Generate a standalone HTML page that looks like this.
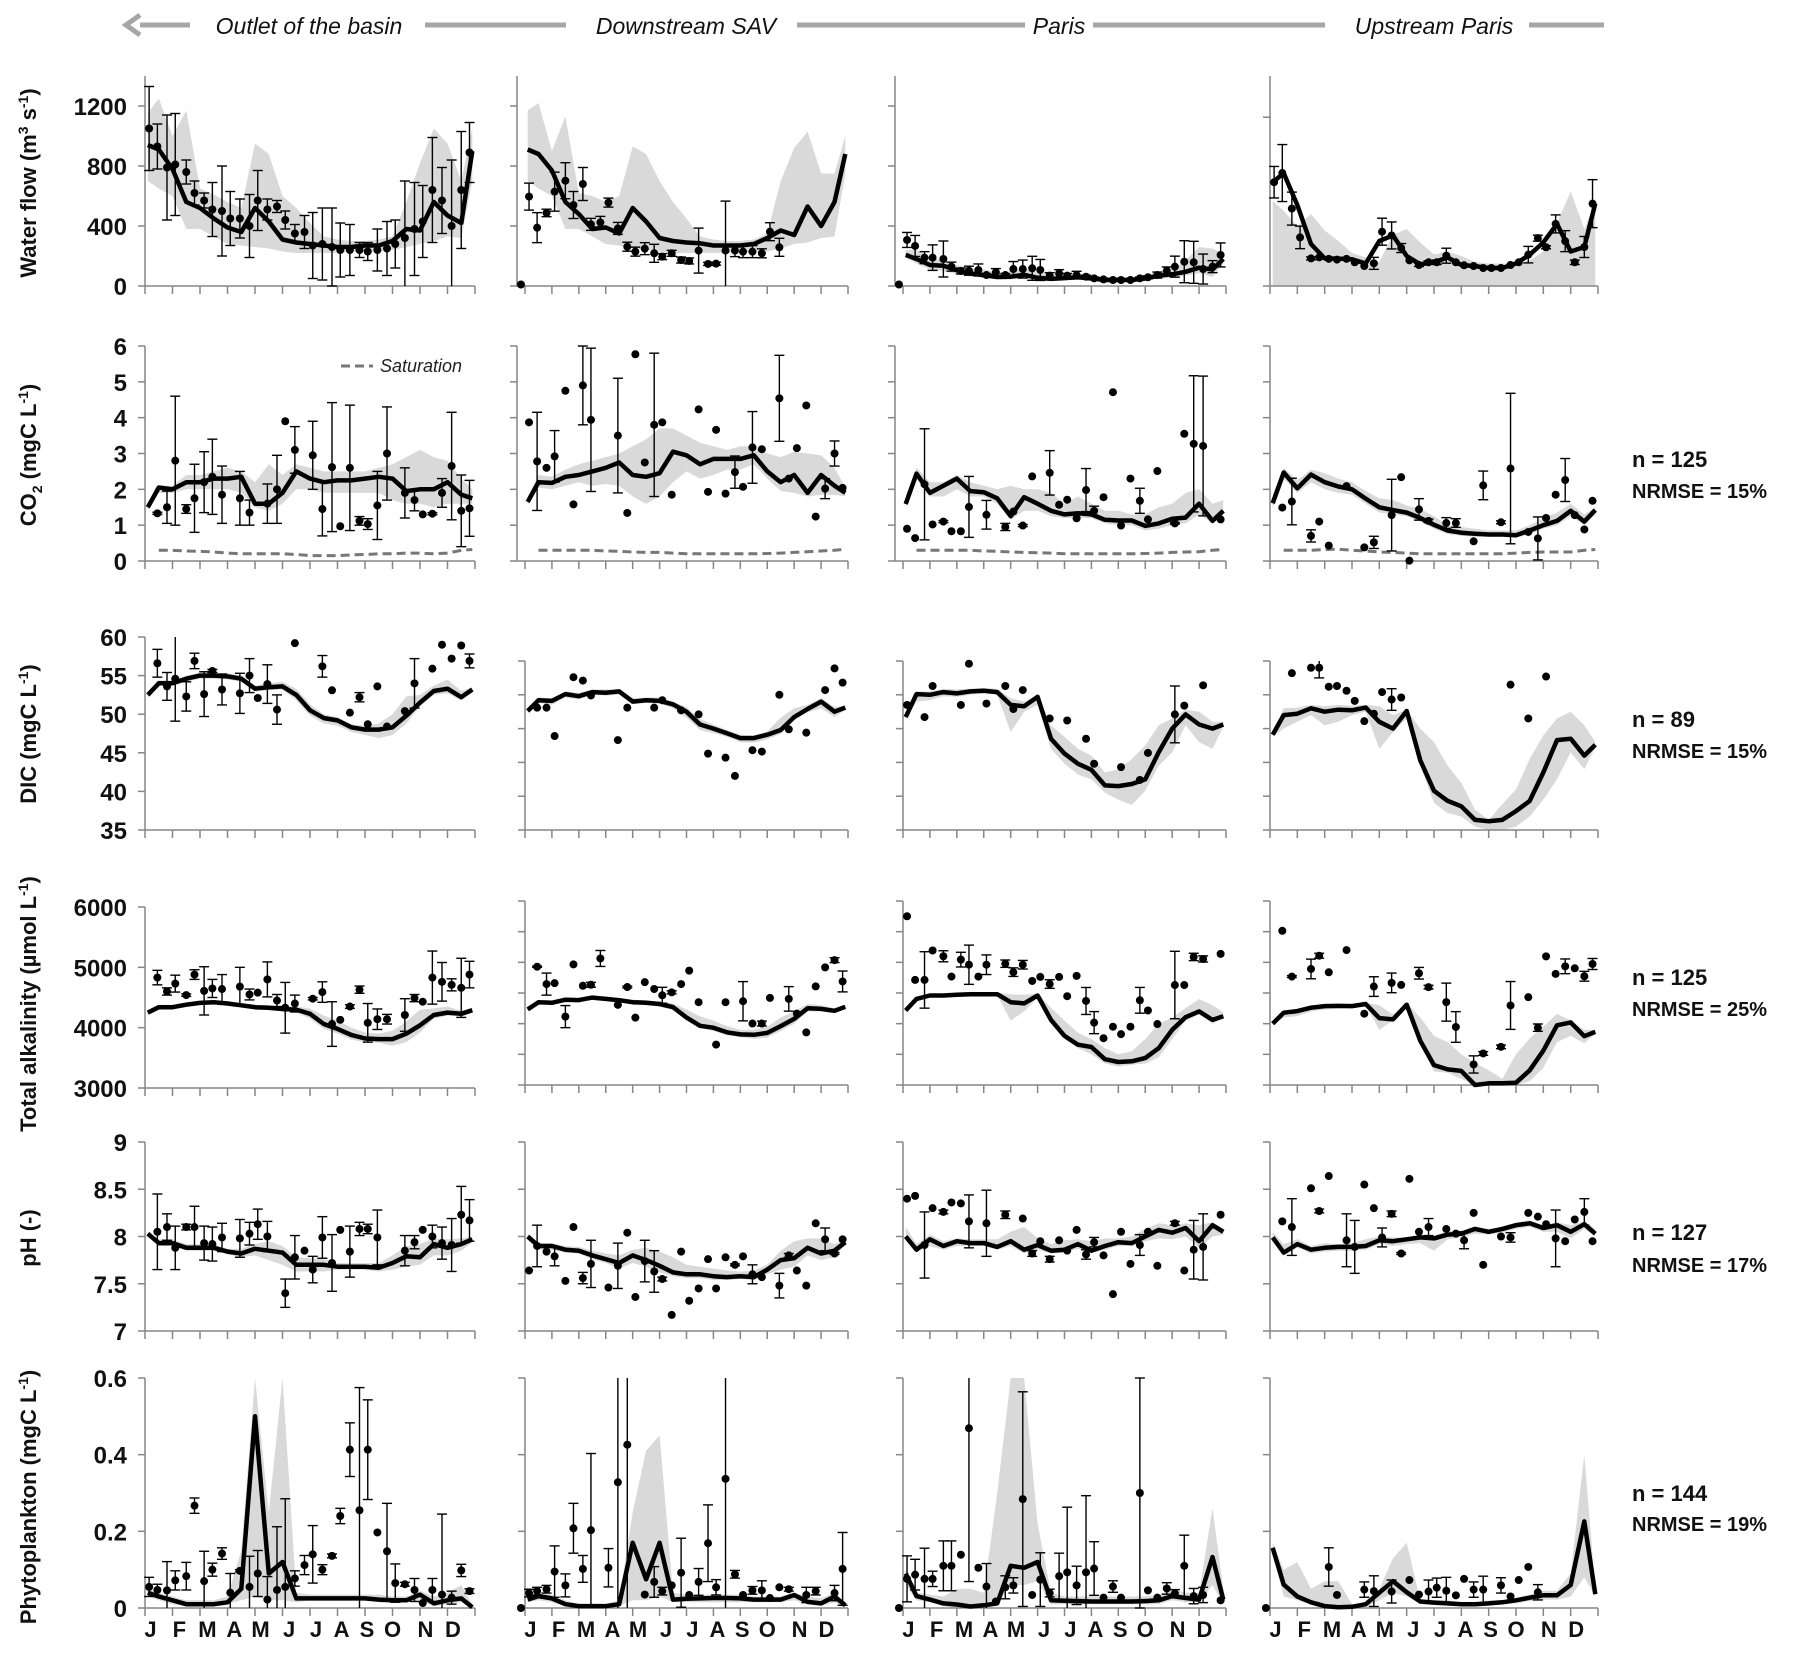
<!DOCTYPE html>
<html><head><meta charset="utf-8"><title>Carbonate system simulations along the Seine</title>
<style>
html,body{margin:0;padding:0;background:#fff;}
svg{display:block;font-family:"Liberation Sans",Arial,sans-serif;}
</style></head>
<body>
<svg id="fig" width="1800" height="1663" viewBox="0 0 1800 1663" xmlns="http://www.w3.org/2000/svg">
  <g>
    <line x1="140" y1="25" x2="190" y2="25" stroke="#a6a6a6" stroke-width="5"/>
    <polyline points="140,15 126,25 140,35" fill="none" stroke="#a6a6a6" stroke-width="5"/>
    <text x="309" y="34" font-size="23" font-style="italic" text-anchor="middle" fill="#111">Outlet of the basin</text>
    <line x1="425" y1="25" x2="566" y2="25" stroke="#a6a6a6" stroke-width="5"/>
    <text x="686" y="34" font-size="23" font-style="italic" text-anchor="middle" fill="#111">Downstream SAV</text>
    <line x1="797" y1="25" x2="1025" y2="25" stroke="#a6a6a6" stroke-width="5"/>
    <text x="1059" y="34" font-size="23" font-style="italic" text-anchor="middle" fill="#111">Paris</text>
    <line x1="1093" y1="25" x2="1325" y2="25" stroke="#a6a6a6" stroke-width="5"/>
    <text x="1434" y="34" font-size="23" font-style="italic" text-anchor="middle" fill="#111">Upstream Paris</text>
    <line x1="1529" y1="25" x2="1604" y2="25" stroke="#a6a6a6" stroke-width="5"/>
  </g>
  <g font-weight="bold" font-size="22" fill="#111">
    <text transform="translate(36,183) rotate(-90)" text-anchor="middle">Water flow (m<tspan font-size="14" dy="-8">3</tspan><tspan dy="8"> s</tspan><tspan font-size="14" dy="-8">-1</tspan><tspan dy="8">)</tspan></text>
    <text transform="translate(36,455) rotate(-90)" text-anchor="middle">CO<tspan font-size="14" dy="6">2</tspan><tspan dy="-6"> (mgC L</tspan><tspan font-size="14" dy="-8">-1</tspan><tspan dy="8">)</tspan></text>
    <text transform="translate(36,734) rotate(-90)" text-anchor="middle">DIC (mgC L<tspan font-size="14" dy="-8">-1</tspan><tspan dy="8">)</tspan></text>
    <text transform="translate(36,1004) rotate(-90)" text-anchor="middle">Total alkalinity (µmol L<tspan font-size="14" dy="-8">-1</tspan><tspan dy="8">)</tspan></text>
    <text transform="translate(36,1238) rotate(-90)" text-anchor="middle">pH (-)</text>
    <text transform="translate(36,1497) rotate(-90)" text-anchor="middle">Phytoplankton (mgC L<tspan font-size="14" dy="-8">-1</tspan><tspan dy="8">)</tspan></text>
  </g>
  <g font-weight="bold" fill="#111">
    <text x="1632" y="467" font-size="22">n = 125</text>
    <text x="1632" y="498" font-size="20">NRMSE = 15%</text>
    <text x="1632" y="727" font-size="22">n = 89</text>
    <text x="1632" y="758" font-size="20">NRMSE = 15%</text>
    <text x="1632" y="985" font-size="22">n = 125</text>
    <text x="1632" y="1016" font-size="20">NRMSE = 25%</text>
    <text x="1632" y="1240" font-size="22">n = 127</text>
    <text x="1632" y="1272" font-size="20">NRMSE = 17%</text>
    <text x="1632" y="1501" font-size="22">n = 144</text>
    <text x="1632" y="1531" font-size="20">NRMSE = 19%</text>
  </g>
  <g>
    <line x1="341" y1="366" x2="373" y2="366" stroke="#777" stroke-width="3" stroke-dasharray="9,5"/>
    <text x="380" y="372" font-size="18" font-style="italic" fill="#222">Saturation</text>
  </g>
  <g id="panels"></g>
</svg>
<script>
// ---------- model time grid (months) and observation time slots ----------
const modelT = [0.1,0.5,1,1.5,2,2.5,3,3.5,4,4.5,5,5.5,6,6.5,7,7.5,8,8.5,9,9.5,10,10.5,11,11.5,11.9];
const obsT = [-0.15,0.15,0.45,0.8,1.1,1.5,1.8,2.15,2.45,2.8,3.1,3.45,3.8,4.1,4.45,4.8,5.1,5.45,5.8,6.1,6.45,6.8,7.1,7.45,7.8,8.1,8.45,8.8,9.1,9.45,9.8,10.1,10.45,10.8,11.15,11.5,11.8];
const monthLabels = ["J","F","M","A","M","J","J","A","S","O","N","D"];

// ---------- Water flow ----------
const flow_c1_model = [940,910,780,560,520,450,390,360,520,430,310,290,280,270,260,260,270,270,300,380,370,560,470,420,900];
const flow_c1_hi = [1150,1250,1000,1170,650,610,560,520,950,880,600,520,420,330,310,300,300,310,330,560,820,1050,950,700,1050];
const flow_c1_lo = [700,650,600,380,380,330,280,270,260,250,230,220,220,220,220,230,230,230,240,260,280,300,330,320,700];
const flow_c1_obs = [null,1050,930,790,810,760,620,570,510,500,450,450,400,570,510,530,440,350,360,270,280,260,240,240,240,230,240,250,280,320,380,430,640,570,400,640,890];
const flow_c1_err = [0,280,150,350,340,80,80,50,180,300,180,130,210,200,70,40,60,60,110,220,240,260,180,170,50,60,140,180,160,380,310,240,350,220,440,390,200];

const flow_c2_model = [910,880,770,560,480,380,390,350,520,430,320,300,290,285,270,270,270,280,320,370,340,530,400,560,880];
const flow_c2_hi = [1170,1220,900,1130,620,600,560,600,930,880,700,560,450,330,310,300,300,310,350,700,920,1030,750,750,1000];
const flow_c2_lo = [700,650,600,380,380,330,280,270,250,240,230,220,220,220,220,220,220,225,230,250,280,290,320,330,750];
const flow_c2_obs = [10,596,389,487,629,702,540,680,411,424,556,384,262,229,249,218,196,218,173,167,236,147,149,236,236,229,229,218,362,258,null,null,null,null,null,null,null];
const flow_c2_err = [0,90,100,25,130,120,90,110,40,40,30,40,30,30,40,60,20,20,20,20,150,10,10,330,40,40,40,30,60,60,0,0,0,0,0,0,0];

const flow_c3_model = [207,180,140,135,105,84,73,60,62,75,55,47,53,58,50,40,40,40,50,69,78,95,122,110,180];
const flow_c3_hi = [240,240,190,170,140,120,110,90,100,115,90,80,80,85,75,60,60,60,75,95,110,170,260,250,220];
const flow_c3_lo = [190,150,110,100,80,62,55,45,45,50,40,35,40,40,35,30,30,30,35,50,55,70,85,60,150];
const flow_c3_obs = [10,307,267,189,189,180,129,100,102,107,73,91,73,113,113,118,107,69,84,69,73,62,51,44,40,40,40,51,58,73,102,129,162,158,113,129,207];
const flow_c3_err = [0,50,70,40,85,120,30,20,30,40,10,25,10,50,60,80,70,20,25,15,25,10,8,8,8,8,8,8,10,20,25,70,140,140,100,40,80];

const flow_c4_model = [692,753,540,280,184,183,178,150,300,337,200,145,158,190,140,133,120,120,150,209,290,414,230,260,549];
const flow_c4_hi = [567,500,400,480,370,300,220,190,160,340,380,290,210,230,200,160,150,150,150,170,230,420,630,380,560];
const flow_c4_lo = [0,0,0,0,0,0,0,0,0,0,0,0,0,0,0,0,0,0,0,0,0,0,0,0,0];
const flow_c4_obs = [null,692,753,516,324,184,191,181,176,181,158,133,151,362,337,253,171,140,158,158,202,158,138,133,120,120,120,140,158,209,319,258,414,299,158,260,549];
const flow_c4_err = [0,105,190,110,75,10,0,0,0,0,0,0,40,90,90,30,0,10,10,15,50,0,0,0,0,0,0,0,0,55,20,10,60,70,15,70,160];

// ---------- CO2 ----------
const co2_c1_model = [1.5,2.05,2.0,2.2,2.2,2.3,2.3,2.35,1.6,1.6,1.9,2.5,2.3,2.2,2.25,2.25,2.3,2.35,2.3,1.95,2.0,2.0,2.2,1.85,1.75];
const co2_c1_hi = [1.6,2.1,2.1,2.4,2.4,2.5,2.6,2.5,2.2,2.7,2.4,2.7,2.6,2.5,2.5,2.5,2.5,2.6,2.7,2.9,3.1,2.9,2.8,2.3,2.0];
const co2_c1_lo = [1.4,1.9,1.9,2.0,2.0,2.0,2.0,1.9,1.5,1.4,1.6,2.0,2.0,1.9,1.9,1.9,1.9,1.9,1.7,1.6,1.6,1.5,1.6,1.6,1.6];
const co2_c1_obs = [null,null,1.33,1.5,2.8,1.45,1.75,2.2,2.35,1.85,null,1.75,1.35,null,1.6,2.0,3.9,3.1,null,2.95,1.45,2.62,0.97,2.6,1.12,1.03,1.55,3.0,null,1.9,1.7,1.3,1.32,1.9,2.65,1.4,1.47];
const co2_c1_err = [0,0,0.03,0.45,1.8,0.12,0.95,0.85,1.05,0.8,0,0.75,0.35,0,0.55,0.95,0,0.65,0,0.95,0.75,1.8,0,1.75,0.12,0.15,0.95,1.3,0,0.7,0.3,0,0.03,0.4,1.5,1.0,0.78];
const sat_c1 = [0.3,0.3,0.3,0.28,0.27,0.25,0.22,0.2,0.2,0.2,0.2,0.18,0.15,0.15,0.15,0.17,0.18,0.2,0.2,0.22,0.22,0.2,0.22,0.3,0.32];

const co2_c2_model = [1.65,2.2,2.18,2.35,2.4,2.5,2.6,2.75,2.4,2.35,2.45,3.05,2.95,2.7,2.85,2.85,2.85,2.95,2.5,2.2,2.4,1.9,2.4,2.1,1.9];
const co2_c2_hi = [1.8,2.4,2.35,2.55,2.7,2.8,2.9,3.0,3.2,3.4,3.7,3.7,3.5,3.3,3.2,3.1,3.2,3.2,3.0,2.9,3.05,3.0,2.95,2.6,2.05];
const co2_c2_lo = [1.55,2.05,2.0,2.1,2.2,2.1,2.15,2.1,1.8,1.6,1.8,2.2,2.5,2.3,2.4,2.55,2.55,2.7,2.3,1.95,1.9,1.8,1.85,1.85,1.8];
const co2_c2_obs = [null,3.87,2.78,2.6,2.92,4.75,1.58,4.9,3.94,null,null,3.5,1.34,5.77,2.75,3.8,3.87,1.85,null,null,4.23,1.93,3.66,1.88,2.48,2.07,3.17,3.12,null,4.54,2.3,3.15,4.34,1.24,2.02,3.0,2.04];
const co2_c2_err = [0,0,1.37,0,0.72,0,0,1.1,2.0,0,0,1.6,0,0,0,2.0,0,0,0,0,0,0,0,0,0.45,0,1.0,0,0,1.2,0,0,0,0,0.28,0.35,0];
const sat_c2 = [0.3,0.3,0.3,0.3,0.3,0.3,0.28,0.27,0.25,0.24,0.24,0.22,0.2,0.2,0.2,0.2,0.2,0.2,0.21,0.22,0.24,0.26,0.28,0.3,0.33];

const co2_c3_model = [1.59,2.44,1.9,2.1,2.3,1.95,1.92,1.75,1.25,1.78,1.6,1.4,1.3,1.33,1.3,1.15,1.13,1.13,0.98,1.05,1.18,1.21,1.6,1.12,1.4];
const co2_c3_hi = [1.8,2.6,2.2,2.2,2.4,2.2,2.1,2.0,2.1,2.0,2.0,1.9,1.6,1.8,1.6,1.4,1.4,1.3,1.3,1.5,1.6,1.9,2.0,1.6,1.7];
const co2_c3_lo = [1.5,2.3,1.8,1.8,2.0,1.8,1.8,1.6,1.15,1.4,1.4,1.25,1.2,1.2,1.2,1.05,1.0,1.0,0.85,0.9,1.0,1.05,1.3,1.05,1.3];
const co2_c3_obs = [null,0.9,0.64,2.14,1.02,1.1,0.83,0.83,1.51,null,1.29,null,0.95,1.38,0.99,2.36,null,2.46,1.57,1.71,1.19,1.98,1.4,1.78,4.71,0.99,2.3,1.68,1.16,2.51,null,1.05,3.55,3.27,3.21,null,1.16];
const co2_c3_err = [0,0,0,1.55,0,0.03,0,0,0.85,0,0.4,0,0.1,0,0.03,0,0,0.62,0,0,0,0.6,0.13,0,0,0,0,0.35,0,0,0,0.02,0,1.9,1.95,0,0];
const sat_c3 = [0.3,0.3,0.3,0.3,0.3,0.3,0.28,0.27,0.25,0.24,0.23,0.22,0.2,0.2,0.2,0.2,0.2,0.2,0.21,0.22,0.24,0.25,0.26,0.3,0.32];

const co2_c4_model = [1.61,2.47,2.03,2.41,2.2,2.08,2.0,1.74,1.5,1.42,1.35,1.2,1.01,0.85,0.79,0.76,0.74,0.74,0.72,0.85,1.0,1.12,1.4,1.1,1.42];
const co2_c4_hi = [1.85,2.6,2.25,2.55,2.45,2.3,2.2,1.95,1.75,1.7,1.55,1.45,1.25,1.0,0.95,0.9,0.85,0.85,0.85,1.0,1.2,1.35,1.6,1.3,1.5];
const co2_c4_lo = [1.45,2.3,1.9,2.2,2.0,1.9,1.85,1.6,1.35,1.3,1.25,1.1,0.9,0.75,0.7,0.68,0.68,0.68,0.65,0.75,0.9,1.0,1.25,1.0,1.3];
const co2_c4_obs = [null,null,1.49,1.66,null,0.7,1.1,0.43,null,2.09,null,0.38,0.52,null,1.28,2.34,0.01,1.44,1.12,null,1.06,1.06,null,0.55,2.11,null,1.08,2.58,null,0.81,0.63,1.2,1.85,2.26,1.28,0.88,1.68];
const co2_c4_err = [0,0,0,0.65,0,0.17,0,0,0,0,0,0,0.17,0,1.0,0,0,0.3,0.05,0,0.15,0.12,0,0,0.4,0,0.04,2.1,0,0,0.6,0,0,0.6,0,0,0];
const sat_c4 = [0.3,0.3,0.3,0.3,0.32,0.33,0.3,0.28,0.25,0.24,0.22,0.2,0.2,0.2,0.2,0.2,0.2,0.2,0.22,0.24,0.25,0.25,0.25,0.3,0.32];

// ---------- DIC ----------
const dic_c1_model = [52.5,54.0,54.0,54.6,55.0,55.0,54.9,54.6,53.3,53.5,53.6,52.5,50.5,49.5,49.2,48.3,48.0,48.0,48.3,49.8,51.5,53.0,53.3,52.2,53.2];
const dic_c1_hi = [52.8,54.4,54.4,55.0,55.4,55.4,55.3,55.0,53.7,54.0,54.2,53.3,51.3,50.0,49.6,48.7,48.5,48.8,50.0,52.3,52.5,53.7,54.5,53.0,53.5];
const dic_c1_lo = [52.2,53.7,53.7,54.2,54.6,54.6,54.5,54.2,52.9,53.1,53.2,51.8,49.8,48.8,48.5,47.7,47.3,46.9,47.3,48.8,51.0,52.5,52.7,51.8,52.9];
const dic_c1_obs = [null,null,56.6,53.6,54.6,52.3,56.9,52.6,55.6,53.2,null,52.7,55.0,52.1,53.9,50.6,null,59.2,null,null,56.2,53.1,null,50.2,52.2,48.7,53.6,48.4,null,50.4,54.0,null,55.9,59.0,57.2,58.9,56.9];
const dic_c1_err = [0,0,1.8,1.8,5.5,1.9,1.0,2.9,0.2,2.0,0,2.6,2.2,0,2.5,1.9,0,0,0,0,1.4,0,0,0,0.6,0,0,0,0,0,3.2,0,0,0,0,0,0.9];

const dic_c2_model = [52.6,54.2,54.1,55.1,54.8,55.4,55.3,55.5,54.0,54.2,54.1,53.6,52.5,50.6,50.0,49.3,48.6,48.6,49.1,49.8,51.7,52.9,54.0,52.5,53.1];
const dic_c2_hi = [52.9,54.6,54.5,55.5,55.3,55.8,55.8,55.8,54.5,54.6,54.6,54.0,53.2,51.4,50.6,49.8,49.1,49.0,49.6,51.6,53.0,53.5,54.5,53.2,53.4];
const dic_c2_lo = [52.3,53.8,53.5,54.6,54.3,55.0,54.9,55.0,53.6,53.8,53.7,53.0,51.6,49.8,49.3,48.8,48.0,47.9,48.4,49.2,51.3,52.4,53.0,51.7,52.8];
const dic_c2_obs = [null,null,53.1,53.1,48.9,null,57.6,57.1,54.9,null,null,48.3,53.1,null,null,53.1,54.2,null,52.7,null,52.1,46.3,null,45.7,43.0,null,46.8,46.6,null,55.0,49.9,null,49.4,null,55.7,58.9,56.8];
const dic_c2_err = [0,0,0,0,0,0,0,0,0,0,0,0,0,0,0,0,0,0,0,0,0,0,0,0,0,0,0,0,0,0,0,0,0,0,0,0,0];

const dic_c3_model = [51.7,55.1,55.0,55.4,55.2,55.5,55.6,55.4,53.5,53.3,54.7,48.5,46.3,44.8,43.9,41.6,41.5,41.8,42.5,46.5,50.0,52.1,50.6,50.0,50.6];
const dic_c3_hi = [52.0,55.5,55.5,55.9,55.8,55.9,56.0,55.9,54.5,54.0,55.0,50.5,48.8,47.0,46.0,43.5,44.0,45.5,47.5,50.5,51.5,52.8,52.5,51.0,51.0];
const dic_c3_lo = [51.4,54.0,54.2,54.8,54.7,55.0,55.2,55.0,49.5,52.5,53.5,47.0,44.8,43.2,42.5,40.5,39.5,38.7,40.8,44.5,46.5,50.5,48.0,47.0,50.3];
const dic_c3_obs = [null,53.5,null,51.7,56.3,null,null,53.5,59.6,null,53.7,null,56.3,52.9,55.7,null,null,51.5,null,51.2,null,48.5,44.8,null,null,44.3,null,42.4,46.4,null,null,52.1,53.4,null,56.4,null,null];
const dic_c3_err = [0,0,0,0,0,0,0,0,0,0,0,0,0,0,0,0,0,0,0,0,0,0,0,0,0,0,0,0,0,0,0,4.2,0,0,0,0,0];

const dic_c4_model = [49.1,52.0,52.2,53.0,52.5,52.8,52.7,53.1,51.0,50.0,52.6,45.3,40.8,39.3,38.5,36.5,36.3,36.5,37.8,39.3,43.5,48.3,48.5,46.0,47.6];
const dic_c4_hi = [49.4,53.0,53.1,53.5,53.3,53.5,53.4,53.5,53.3,52.0,52.8,50.0,48.0,44.5,42.0,38.0,36.5,38.8,41.0,45.5,49.0,51.5,52.5,50.5,48.0];
const dic_c4_lo = [48.8,50.0,51.0,52.0,50.5,51.0,52.0,52.5,47.0,49.5,51.5,44.5,39.0,37.5,37.0,35.5,35.0,35.0,35.5,37.0,39.5,42.5,46.5,44.0,47.2];
const dic_c4_obs = [null,null,null,58.2,null,59.0,59.0,56.2,56.3,55.6,54.1,51.1,52.2,55.4,54.3,54.6,null,null,null,null,null,null,null,null,null,null,null,56.5,null,51.5,null,57.7,null,null,null,null,null];
const dic_c4_err = [0,0,0,0,0,0,1.5,0,0,0,0,0,0,0,1.6,0,0,0,0,0,0,0,0,0,0,0,0,0,0,0,0,0,0,0,0,0,0];

// ---------- Total alkalinity ----------
const alk_c1_model = [4250,4340,4340,4380,4410,4420,4400,4370,4340,4330,4310,4300,4230,4060,3980,3880,3820,3810,3810,3900,4040,4210,4250,4230,4290];
const alk_c1_hi = [4280,4380,4380,4420,4450,4450,4430,4400,4380,4370,4350,4350,4320,4200,4120,4000,3920,3900,3950,4100,4300,4320,4350,4280,4320];
const alk_c1_lo = [4220,4310,4310,4350,4380,4390,4370,4340,4300,4290,4270,4250,4150,3980,3900,3800,3760,3750,3700,3760,3920,4150,4200,4190,4260];
const alk_c1_obs = [null,null,4830,4600,4730,4540,4880,4610,4650,4640,null,4680,4550,4580,4800,4450,4330,4400,null,4480,4590,4060,4130,4350,4630,4080,4140,4140,null,4210,4490,4430,4830,4760,4710,4660,4880];
const alk_c1_err = [0,0,120,60,140,20,80,400,150,240,0,320,90,0,290,100,420,140,0,20,170,370,0,30,60,320,170,80,0,270,60,0,440,320,100,490,220];

const alk_c2_model = [4232,4350,4340,4390,4385,4425,4404,4383,4350,4340,4320,4270,4100,3965,3935,3860,3825,3818,3850,3960,4080,4250,4240,4210,4275];
const alk_c2_hi = [4260,4380,4380,4420,4420,4450,4440,4420,4390,4380,4360,4330,4230,4120,4050,3960,3900,3900,3950,4100,4200,4320,4300,4250,4300];
const alk_c2_lo = [4200,4320,4310,4360,4350,4390,4370,4350,4310,4300,4280,4220,4050,3930,3880,3810,3780,3750,3770,3880,4000,4200,4200,4170,4250];
const alk_c2_obs = [null,null,4929,4645,4660,4115,4966,4618,4634,5063,null,4307,4597,4098,4677,4565,4463,4511,4645,4865,4350,null,3659,4350,null,4366,4002,4002,4420,null,4404,4163,3857,4607,4918,5036,4688];
const alk_c2_err = [0,0,10,180,0,180,0,0,40,130,0,0,15,0,0,0,130,25,0,0,0,0,0,0,0,320,0,40,0,0,200,0,0,0,0,40,170];

const alk_c3_model = [4215,4403,4459,4459,4470,4481,4481,4481,4350,4330,4459,4061,3800,3657,3620,3420,3375,3387,3440,3600,3900,4105,4200,4061,4122];
const alk_c3_hi = [4240,4440,4490,4490,4500,4510,4510,4510,4480,4470,4490,4260,4050,3850,3750,3600,3500,3550,3750,4000,4100,4250,4400,4300,4180];
const alk_c3_lo = [4190,4370,4430,4430,4440,4460,4460,4460,4050,4200,4420,4000,3750,3600,3500,3350,3300,3330,3350,3450,3750,4050,4150,4000,4090];
const alk_c3_obs = [null,5751,4713,4713,5193,5099,4768,5044,4961,4768,4961,null,4978,4840,4961,4696,4762,4646,4762,4448,4779,4370,4017,3763,3950,3829,3950,4381,4215,3994,null,4630,4630,5088,5055,null,5138];
const alk_c3_err = [0,0,0,460,0,90,0,120,320,0,160,0,60,70,70,0,0,70,0,0,0,220,180,0,0,0,0,210,0,0,0,550,0,60,50,0,0];

const alk_c4_model = [4000,4178,4205,4260,4286,4290,4286,4320,4090,4070,4310,3720,3324,3254,3230,3000,3027,3027,3038,3240,3560,3973,4020,3795,3865];
const alk_c4_hi = [4020,4200,4230,4290,4310,4320,4310,4340,4300,4150,4330,4100,3800,3700,3500,3360,3240,3100,3500,3760,3950,4160,4050,3900,3900];
const alk_c4_lo = [3980,4100,4120,4200,4230,4250,4250,4300,3900,4050,4290,3650,3220,3200,3100,3000,2950,2950,3000,3060,3280,3700,3800,3680,3840];
const alk_c4_obs = [null,null,5514,4768,null,4892,5108,4838,null,5200,null,4162,4605,null,4665,4632,null,4822,4595,null,4351,3946,null,3335,3514,null,3622,4297,null,4432,3935,5097,4811,4935,4903,4773,4973];
const alk_c4_err = [0,0,0,15,0,160,40,0,0,0,0,0,160,0,160,0,0,95,30,0,310,250,0,140,30,0,30,390,0,0,60,0,0,120,0,80,90];

// ---------- pH ----------
const ph_c1_model = [8.03,7.93,7.93,7.88,7.88,7.88,7.84,7.82,7.87,7.85,7.83,7.7,7.7,7.7,7.68,7.68,7.68,7.67,7.72,7.79,7.78,7.92,7.88,7.92,7.97];
const ph_c1_hi = [8.05,7.97,7.97,7.92,7.92,7.92,7.87,7.87,7.92,7.95,7.9,7.78,7.77,7.76,7.72,7.72,7.72,7.72,7.8,7.9,7.92,7.98,7.97,7.98,8.0];
const ph_c1_lo = [8.0,7.9,7.9,7.85,7.85,7.85,7.81,7.78,7.8,7.75,7.7,7.63,7.63,7.63,7.65,7.65,7.65,7.63,7.65,7.68,7.7,7.8,7.8,7.85,7.94];
const ph_c1_obs = [null,null,8.05,8.1,7.88,8.1,8.1,7.93,7.92,7.99,null,7.98,8.03,8.13,8.0,null,7.4,7.78,7.85,7.65,7.99,7.72,8.07,7.84,8.08,8.08,7.99,null,null,7.85,7.94,8.07,8.0,7.93,7.91,8.23,8.17];
const ph_c1_err = [0,0,0.4,0.14,0.23,0.03,0.22,0.18,0.18,0.15,0,0.2,0.12,0.16,0.16,0,0.15,0.23,0,0.14,0.22,0.3,0,0.27,0.07,0.05,0.29,0,0,0.16,0.07,0,0.12,0.17,0.28,0.3,0.22];

const ph_c2_model = [8.0,7.9,7.9,7.86,7.85,7.8,7.76,7.72,7.8,7.75,7.69,7.62,7.6,7.6,7.58,7.57,7.58,7.57,7.65,7.75,7.77,7.88,7.82,7.85,7.94];
const ph_c2_hi = [8.03,7.93,7.93,7.9,7.89,7.85,7.82,7.8,7.86,7.88,7.84,7.78,7.7,7.68,7.66,7.64,7.63,7.64,7.7,7.85,7.95,7.98,7.98,7.92,7.97];
const ph_c2_lo = [7.98,7.86,7.86,7.83,7.82,7.76,7.72,7.66,7.72,7.68,7.62,7.58,7.56,7.56,7.54,7.54,7.55,7.54,7.6,7.65,7.68,7.8,7.75,7.78,7.92];
const ph_c2_obs = [null,7.64,7.9,7.84,7.79,7.53,8.1,7.56,7.71,null,7.46,7.69,8.04,7.36,7.74,7.63,7.55,7.17,7.84,7.32,7.45,7.76,7.45,7.78,7.7,7.79,7.6,7.57,null,7.48,7.8,7.64,7.48,8.14,7.97,7.82,7.97];
const ph_c2_err = [0,0,0.22,0,0.1,0,0,0.06,0.25,0,0,0.24,0,0,0.22,0.22,0.02,0,0,0,0,0,0,0,0.01,0,0.1,0,0,0.13,0.02,0,0,0,0.12,0.01,0];

const ph_c3_model = [8.0,7.86,7.97,7.9,7.95,7.93,7.93,7.89,7.95,7.86,7.91,7.85,7.86,7.92,7.85,7.9,7.94,7.93,8.0,8.07,8.04,8.09,7.95,8.12,8.05];
const ph_c3_hi = [8.1,7.92,8.02,7.95,7.98,7.97,7.97,7.97,8.05,8.1,7.98,7.92,7.96,7.97,7.95,7.98,7.98,8.0,8.08,8.14,8.12,8.14,8.12,8.15,8.08];
const ph_c3_lo = [7.96,7.84,7.9,7.86,7.9,7.9,7.9,7.86,7.9,7.82,7.86,7.82,7.83,7.87,7.83,7.86,7.9,7.9,7.95,7.98,7.97,8.0,7.88,8.0,8.02];
const ph_c3_obs = [null,8.4,8.43,7.91,8.3,8.26,8.36,8.35,8.16,null,8.14,null,8.23,null,8.19,7.82,7.95,7.76,7.96,7.85,8.07,7.81,7.94,7.8,7.39,8.05,7.71,7.91,8.05,7.69,null,8.14,7.64,7.86,7.89,null,8.23];
const ph_c3_err = [0,0,0,0.35,0,0.02,0,0,0.28,0,0.35,0,0.04,0,0,0.03,0,0.03,0,0,0,0.05,0.05,0,0,0,0,0.11,0,0,0,0.02,0,0.31,0.35,0,0];

const ph_c4_model = [7.99,7.83,7.92,7.86,7.88,7.89,7.89,7.9,7.96,7.95,7.97,7.99,7.98,8.02,8.03,8.08,8.05,8.08,8.12,8.14,8.09,8.12,8.05,8.13,8.03];
const ph_c4_hi = [8.05,7.92,7.97,7.9,7.93,7.92,7.93,7.97,8.0,7.99,7.99,8.02,8.01,8.06,8.06,8.1,8.08,8.1,8.15,8.17,8.12,8.15,8.12,8.16,8.08];
const ph_c4_lo = [7.96,7.8,7.88,7.82,7.84,7.85,7.85,7.86,7.92,7.9,7.92,7.93,7.85,7.97,7.99,8.03,8.02,8.04,8.08,8.1,8.05,8.05,7.98,8.08,8.0];
const ph_c4_obs = [null,null,8.16,8.1,null,8.51,8.27,8.64,null,7.96,7.89,8.55,8.3,7.99,8.24,7.82,8.61,8.05,8.1,null,8.08,8.03,7.96,8.25,7.7,null,8.0,7.99,null,8.25,8.21,8.13,7.98,7.95,8.18,8.26,7.95];
const ph_c4_err = [0,0,0,0.3,0,0,0.02,0,0,0.28,0.28,0,0,0.1,0.03,0.01,0,0,0.09,0,0,0,0.09,0,0,0,0,0.05,0,0,0,0,0.3,0,0,0.14,0];

// ---------- Phytoplankton ----------
const phy_c1_model = [0.04,0.03,0.02,0.01,0.01,0.01,0.015,0.05,0.5,0.09,0.12,0.025,0.025,0.025,0.025,0.025,0.025,0.022,0.02,0.02,0.035,0.012,0.02,0.025,0.002];
const phy_c1_hi = [0.05,0.04,0.03,0.02,0.02,0.02,0.03,0.15,0.7,0.25,0.7,0.04,0.035,0.035,0.035,0.035,0.035,0.035,0.03,0.03,0.045,0.03,0.04,0.06,0.01];
const phy_c1_lo = [0.03,0.02,0.01,0.005,0.005,0.005,0.01,0.02,0.03,0.02,0.02,0.015,0.02,0.02,0.02,0.02,0.02,0.015,0.015,0.015,0.02,0.005,0.01,0.015,0];
const phy_c1_obs = [null,0.055,0.047,0.046,0.072,0.083,0.267,0.07,0.1,0.142,0.04,0.097,0.055,0.09,0.022,0.047,0.055,0.077,0.112,0.14,0.1,0.136,0.24,0.413,0.255,0.413,0.197,0.148,0.065,0.062,0.047,0.013,0.047,0.035,0.027,0.098,0.044];
const phy_c1_err = [0,0.025,0.015,0.075,0.025,0.036,0.02,0.078,0.017,0.015,0.05,0.003,0.08,0.06,0.06,0.165,0.23,0.02,0.025,0.075,0.013,0.005,0.02,0.07,0.32,0.13,0,0.125,0.05,0.005,0.03,0,0.03,0.21,0.017,0.016,0.006];

const phy_c2_model = [0.022,0.031,0.025,0.01,0.005,0.005,0.005,0.01,0.17,0.075,0.17,0.022,0.024,0.025,0.026,0.026,0.025,0.022,0.022,0.022,0.034,0.016,0.012,0.03,0.007];
const phy_c2_hi = [0.03,0.04,0.035,0.02,0.01,0.01,0.01,0.02,0.25,0.41,0.45,0.04,0.035,0.035,0.035,0.035,0.035,0.03,0.03,0.03,0.04,0.03,0.025,0.04,0.015];
const phy_c2_lo = [0.015,0.02,0.015,0.005,0,0,0,0.005,0.02,0.02,0.03,0.015,0.015,0.015,0.015,0.015,0.015,0.015,0.015,0.015,0.02,0.01,0.005,0.015,0];
const phy_c2_obs = [0,0.039,0.044,0.049,0.095,0.059,0.208,0.102,0.203,null,0.105,0.328,0.426,null,0.035,0.068,0.044,0.059,0.092,0.034,0.068,0.169,0.054,0.337,0.088,0.034,0.046,0.046,0.026,0.054,0.049,null,0.034,0.044,null,0.039,0.102];
const phy_c2_err = [0,0.01,0.01,0.01,0.067,0.03,0.065,0.035,0.2,0,0.05,0.33,0.43,0,0,0.04,0.01,0,0.09,0,0.035,0.1,0.02,0.34,0.01,0,0.01,0.025,0,0,0.005,0,0.02,0.01,0,0.02,0.095];

const phy_c3_model = [0.09,0.031,0.022,0.012,0.009,0.004,0.007,0.012,0.11,0.105,0.12,0.02,0.019,0.018,0.017,0.017,0.017,0.017,0.018,0.02,0.031,0.026,0.022,0.133,0.022];
const phy_c3_hi = [0.1,0.04,0.035,0.03,0.05,0.05,0.04,0.3,0.65,0.65,0.22,0.04,0.03,0.03,0.03,0.03,0.03,0.03,0.03,0.035,0.05,0.04,0.04,0.26,0.05];
const phy_c3_lo = [0.06,0.02,0.015,0.005,0,0,0,0.01,0.06,0.06,0.07,0.01,0.01,0.01,0.01,0.01,0.01,0.01,0.01,0.01,0.02,0.015,0.015,0.06,0.01];
const phy_c3_obs = [0,0.076,0.087,0.076,0.076,0.11,0.11,0.139,0.469,0.105,0.056,0.017,0.054,0.059,0.284,0.034,0.074,0.039,0.083,0.093,0.059,0.093,0.103,0.027,0.056,0.027,null,0.3,0.046,0.027,0.051,0.038,0.11,0.031,0.034,null,0.02];
const phy_c3_err = [0,0.06,0.04,0.08,0.02,0.065,0.065,0,0.4,0,0.06,0,0.03,0.02,0.28,0,0.07,0.01,0.06,0.17,0.05,0.2,0.07,0,0.015,0,0,0.3,0,0,0.015,0.01,0.08,0.02,0.02,0,0];

const phy_c4_model = [0.157,0.061,0.03,0.015,0.005,0.002,0.003,0.01,0.04,0.07,0.041,0.017,0.014,0.012,0.01,0.01,0.012,0.015,0.02,0.027,0.033,0.033,0.06,0.226,0.036];
const phy_c4_hi = [0.17,0.1,0.12,0.05,0.07,0.07,0.01,0.01,0.05,0.13,0.17,0.02,0.02,0.02,0.015,0.015,0.02,0.02,0.025,0.035,0.045,0.045,0.09,0.4,0.05];
const phy_c4_lo = [0.14,0.03,0.02,0.01,0,0,0,0,0.02,0.04,0.03,0.01,0.008,0.008,0.005,0.005,0.008,0.01,0.012,0.018,0.022,0.022,0.03,0.08,0.03];
const phy_c4_obs = [0,null,null,null,null,null,null,0.107,0.034,null,null,0.048,0.044,null,0.043,null,0.073,0.035,0.043,0.053,0.045,0.033,0.076,0.048,0.048,null,0.059,0.03,0.073,0.107,0.041,null,null,null,null,null,null];
const phy_c4_err = [0,0,0,0,0,0,0,0.05,0,0,0,0.02,0.04,0,0.03,0,0,0,0.03,0.025,0.035,0,0,0.02,0.035,0,0.02,0,0,0,0.02,0,0,0,0,0,0];

// ---------- tick values ----------
const flowTicks = [0,400,800,1200];
const flowTicksC4 = [0,1125];
const co2Ticks = [0,1,2,3,4,5,6];
const dicTicks = [35,40,45,50,55,60];
const alkTicksC1 = [3000,4000,5000,6000];
const alkTicksOther = [3000,3500,4000,4500,5000,5500,6000];
const phTicks = [7,7.5,8,8.5,9];
const phyTicks = [0,0.2,0.4,0.6];

// ---------- layout (pixels) ----------
const NS = "http://www.w3.org/2000/svg";
const colX0 = [145,525,903,1270];
const colW = [330,323,323,328];
const colNames = ["outlet","downstream-sav","paris","upstream-paris"];
const rowNames = ["water-flow","co2","dic","alkalinity","ph","phytoplankton"];
const rowScale = [
  [{v0:0,y0:286,v1:1200,y1:106,top:1400},{v0:0,y0:286,v1:1200,y1:106,top:1400}],
  [{v0:0,y0:561,v1:6,y1:346,top:6},{v0:0,y0:561,v1:6,y1:346,top:6}],
  [{v0:35,y0:830,v1:60,y1:637,top:60},{v0:35,y0:830,v1:60,y1:661,top:60}],
  [{v0:3000,y0:1088,v1:6000,y1:907,top:6000},{v0:3000,y0:1085,v1:6000,y1:901,top:6000}],
  [{v0:7,y0:1331,v1:9,y1:1142,top:9},{v0:7,y0:1331,v1:9,y1:1142,top:9}],
  [{v0:0,y0:1608,v1:0.6,y1:1378,top:0.6},{v0:0,y0:1608,v1:0.6,y1:1378,top:0.6}]
];
const tickFmt = [v=>String(v), v=>String(v), v=>String(v), v=>String(v), v=>String(v), v=>String(v)];

const panels = [
  {r:0,c:0,m:flow_c1_model,hi:flow_c1_hi,lo:flow_c1_lo,o:flow_c1_obs,e:flow_c1_err,ticks:flowTicks},
  {r:0,c:1,m:flow_c2_model,hi:flow_c2_hi,lo:flow_c2_lo,o:flow_c2_obs,e:flow_c2_err,ticks:flowTicks},
  {r:0,c:2,m:flow_c3_model,hi:flow_c3_hi,lo:flow_c3_lo,o:flow_c3_obs,e:flow_c3_err,ticks:flowTicks},
  {r:0,c:3,m:flow_c4_model,hi:flow_c4_hi,lo:flow_c4_lo,o:flow_c4_obs,e:flow_c4_err,ticks:flowTicksC4},
  {r:1,c:0,m:co2_c1_model,hi:co2_c1_hi,lo:co2_c1_lo,o:co2_c1_obs,e:co2_c1_err,ticks:co2Ticks,sat:sat_c1},
  {r:1,c:1,m:co2_c2_model,hi:co2_c2_hi,lo:co2_c2_lo,o:co2_c2_obs,e:co2_c2_err,ticks:co2Ticks,sat:sat_c2},
  {r:1,c:2,m:co2_c3_model,hi:co2_c3_hi,lo:co2_c3_lo,o:co2_c3_obs,e:co2_c3_err,ticks:co2Ticks,sat:sat_c3},
  {r:1,c:3,m:co2_c4_model,hi:co2_c4_hi,lo:co2_c4_lo,o:co2_c4_obs,e:co2_c4_err,ticks:co2Ticks,sat:sat_c4},
  {r:2,c:0,m:dic_c1_model,hi:dic_c1_hi,lo:dic_c1_lo,o:dic_c1_obs,e:dic_c1_err,ticks:dicTicks},
  {r:2,c:1,m:dic_c2_model,hi:dic_c2_hi,lo:dic_c2_lo,o:dic_c2_obs,e:dic_c2_err,ticks:dicTicks},
  {r:2,c:2,m:dic_c3_model,hi:dic_c3_hi,lo:dic_c3_lo,o:dic_c3_obs,e:dic_c3_err,ticks:dicTicks},
  {r:2,c:3,m:dic_c4_model,hi:dic_c4_hi,lo:dic_c4_lo,o:dic_c4_obs,e:dic_c4_err,ticks:dicTicks},
  {r:3,c:0,m:alk_c1_model,hi:alk_c1_hi,lo:alk_c1_lo,o:alk_c1_obs,e:alk_c1_err,ticks:alkTicksC1},
  {r:3,c:1,m:alk_c2_model,hi:alk_c2_hi,lo:alk_c2_lo,o:alk_c2_obs,e:alk_c2_err,ticks:alkTicksOther},
  {r:3,c:2,m:alk_c3_model,hi:alk_c3_hi,lo:alk_c3_lo,o:alk_c3_obs,e:alk_c3_err,ticks:alkTicksOther},
  {r:3,c:3,m:alk_c4_model,hi:alk_c4_hi,lo:alk_c4_lo,o:alk_c4_obs,e:alk_c4_err,ticks:alkTicksOther},
  {r:4,c:0,m:ph_c1_model,hi:ph_c1_hi,lo:ph_c1_lo,o:ph_c1_obs,e:ph_c1_err,ticks:phTicks},
  {r:4,c:1,m:ph_c2_model,hi:ph_c2_hi,lo:ph_c2_lo,o:ph_c2_obs,e:ph_c2_err,ticks:phTicks},
  {r:4,c:2,m:ph_c3_model,hi:ph_c3_hi,lo:ph_c3_lo,o:ph_c3_obs,e:ph_c3_err,ticks:phTicks},
  {r:4,c:3,m:ph_c4_model,hi:ph_c4_hi,lo:ph_c4_lo,o:ph_c4_obs,e:ph_c4_err,ticks:phTicks},
  {r:5,c:0,m:phy_c1_model,hi:phy_c1_hi,lo:phy_c1_lo,o:phy_c1_obs,e:phy_c1_err,ticks:phyTicks},
  {r:5,c:1,m:phy_c2_model,hi:phy_c2_hi,lo:phy_c2_lo,o:phy_c2_obs,e:phy_c2_err,ticks:phyTicks},
  {r:5,c:2,m:phy_c3_model,hi:phy_c3_hi,lo:phy_c3_lo,o:phy_c3_obs,e:phy_c3_err,ticks:phyTicks},
  {r:5,c:3,m:phy_c4_model,hi:phy_c4_hi,lo:phy_c4_lo,o:phy_c4_obs,e:phy_c4_err,ticks:phyTicks}
];

function mk(tag, attrs, parent){
  const el = document.createElementNS(NS, tag);
  for (const k in attrs) el.setAttribute(k, attrs[k]);
  parent.appendChild(el);
  return el;
}

const root = document.getElementById('panels');

panels.forEach(function(p){
  const sc = rowScale[p.r][p.c === 0 ? 0 : 1];
  const x0 = colX0[p.c], w = colW[p.c];
  const xs = t => x0 + t / 12 * w;
  const clampV = v => Math.max(sc.v0, Math.min(sc.top, v));
  const ys = v => sc.y0 + (clampV(v) - sc.v0) / (sc.v1 - sc.v0) * (sc.y1 - sc.y0);
  const yTop = ys(sc.top), yBot = ys(sc.v0);
  const axOff = (p.r <= 1 && (p.c === 1 || p.c === 2)) ? -8 : 0;
  const ax = x0 + axOff;

  const g = mk('g', {}, root);
  
  

  let pts = [];
  for (let i = 0; i < modelT.length; i++) pts.push(xs(modelT[i]).toFixed(1) + ',' + ys(p.hi[i]).toFixed(1));
  for (let i = modelT.length - 1; i >= 0; i--) pts.push(xs(modelT[i]).toFixed(1) + ',' + ys(p.lo[i]).toFixed(1));
  const band = mk('polygon', {points: pts.join(' '), fill: '#d9d9d9', stroke: 'none'}, g);
  
  

  const yAxis = mk('line', {x1: ax, y1: yTop, x2: ax, y2: yBot, stroke: '#868686', 'stroke-width': 1.5}, g);
  
  
  const xAxis = mk('line', {x1: ax, y1: yBot, x2: x0 + w, y2: yBot, stroke: '#868686', 'stroke-width': 1.5}, g);
  
  
  for (let m = 0; m <= 12; m++) {
    const tk = mk('line', {x1: xs(m), y1: yBot, x2: xs(m), y2: yBot + 8, stroke: '#868686', 'stroke-width': 1.5}, g);
    
    
  }
  p.ticks.forEach(function(v){
    const yy = ys(v);
    const tk = mk('line', {x1: ax - 7, y1: yy, x2: ax, y2: yy, stroke: '#868686', 'stroke-width': 1.5}, g);
    
    
    if (p.c === 0) {
      const lb = mk('text', {x: 127, y: yy + 9, 'text-anchor': 'end', 'font-size': 24, 'font-weight': 'bold', fill: '#111'}, g);
      lb.textContent = tickFmt[p.r](v);
      
      
    }
  });

  if (p.sat) {
    let sp = [];
    for (let i = 1; i < modelT.length; i++) sp.push(xs(modelT[i]).toFixed(1) + ',' + ys(p.sat[i]).toFixed(1));
    const sl = mk('polyline', {points: sp.join(' '), fill: 'none', stroke: '#777', 'stroke-width': 3, 'stroke-dasharray': '9,5'}, g);
    
    
  }

  for (let i = 0; i < obsT.length; i++) {
    const v = p.o[i];
    if (v === null || v === undefined) continue;
    const e = p.e[i] || 0;
    if (e > 0) {
      const xx = xs(obsT[i]);
      const yh = ys(v + e), yl = ys(v - e);
      const bar = mk('line', {x1: xx, y1: yh, x2: xx, y2: yl, stroke: '#000', 'stroke-width': 1.4}, g);
      
      
      if (v + e <= sc.top) {
        const c1 = mk('line', {x1: xx - 5, y1: yh, x2: xx + 5, y2: yh, stroke: '#000', 'stroke-width': 1.4}, g);
        
        
      }
      if (v - e >= sc.v0) {
        const c2 = mk('line', {x1: xx - 5, y1: yl, x2: xx + 5, y2: yl, stroke: '#000', 'stroke-width': 1.4}, g);
        
        
      }
    }
  }

  let lp = [];
  for (let i = 0; i < modelT.length; i++) lp.push(xs(modelT[i]).toFixed(1) + ',' + ys(p.m[i]).toFixed(1));
  const ml = mk('polyline', {points: lp.join(' '), fill: 'none', stroke: '#000', 'stroke-width': 4.5, 'stroke-linejoin': 'round'}, g);
  
  

  for (let i = 0; i < obsT.length; i++) {
    const v = p.o[i];
    if (v === null || v === undefined) continue;
    const dot = mk('circle', {cx: xs(obsT[i]), cy: ys(v), r: 4, fill: '#000'}, g);
    
    
  }

  if (p.r === 5) {
    const off = [0.2,1.25,2.27,3.25,4.2,5.24,6.22,7.15,8.07,9.0,10.2,11.2];
    monthLabels.forEach(function(lbl, k){
      const t = mk('text', {x: xs(off[k]), y: 1637, 'text-anchor': 'middle', 'font-size': 22, 'font-weight': 'bold', fill: '#111'}, g);
      t.textContent = lbl;
      
      
    });
  }
});
</script>
</body></html>
